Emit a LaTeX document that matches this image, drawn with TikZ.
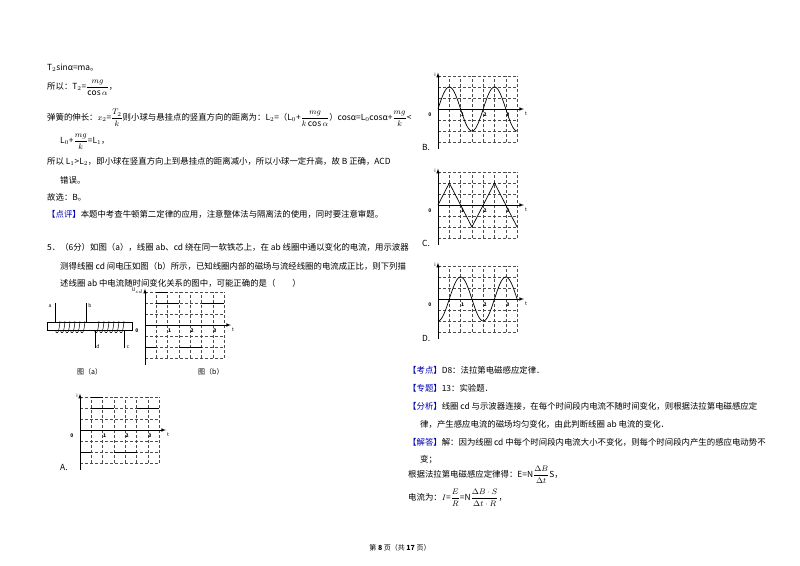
\documentclass[tikz,border=0pt]{standalone}
\usepackage{fontspec}
\setmainfont{Noto Sans CJK SC}
\usepackage{amsmath}
\begin{document}
\def\cc{11.3}\def\rr{11}
\newcommand{\mygraph}[4]{% ox oy ylabel curve
\begin{scope}[shift={(#1,#2)},yscale=-1]
\foreach \k in {1,...,7} \draw[densely dashed,black!70,line width=0.4pt] (\k*\cc,-3*\rr)--(\k*\cc,3*\rr);
\foreach \k in {-3,-2,-1,1,2,3} \draw[densely dashed,black!70,line width=0.4pt] (0,\k*\rr)--(7*\cc,\k*\rr);
\draw[-latex,line width=0.6pt] (0,-3.6*\rr)--(0,3.3*\rr);
\draw[-latex,line width=0.6pt] (0,0)--(7.6*\cc,0);
\node[font=\tiny\itshape,anchor=east,inner sep=1pt] at (-1,3.1*\rr) {#3};
\node[font=\tiny\bfseries] at (-8,-0.5*\rr) {0};
\node[font=\tiny\bfseries] at (2*\cc+2,-0.5*\rr) {1};
\node[font=\tiny\bfseries] at (4*\cc+2,-0.5*\rr) {2};
\node[font=\tiny\bfseries] at (6*\cc+2,-0.5*\rr) {3};
\node[font=\tiny\itshape] at (7.8*\cc,-0.4*\rr) {t};
#4
\end{scope}}
\newcommand{\sq}{\draw[line width=0.7pt] (0,-2*\rr)--(\cc,-2*\rr) (\cc,2*\rr)--(3*\cc,2*\rr) (3*\cc,-2*\rr)--(5*\cc,-2*\rr) (5*\cc,2*\rr)--(7*\cc,2*\rr);\draw[line width=0.7pt] (\cc,3*\rr)--(2*\cc,3*\rr);}
\begin{tikzpicture}[x=1pt,y=-1pt,
  txt/.style={anchor=west,inner sep=0,font=\fontsize{8.4}{10}\selectfont}]
\useasboundingbox[fill=white] (0,0) rectangle (800,565);
% left column text
\node[txt] (l1) at (47,68) {T$_2$sinα=ma。};
\node[txt] (l2) at (47,88) {所以：T$_2$=$\dfrac{mg}{\cos\alpha}$，};
\node[txt] (l3) at (47,118) {弹簧的伸长：$x_2$=$\dfrac{T_2}{k}$则小球与悬挂点的竖直方向的距离为：L$_2$=（L$_0$+$\dfrac{mg}{k\cos\alpha}$）cosα=L$_0$cosα+$\dfrac{mg}{k}$<};
\node[txt] (l4) at (60,142) {L$_0$+$\dfrac{mg}{k}$=L$_1$，};
\node[txt] (l5) at (47,161) {所以 L$_1$>L$_2$，即小球在竖直方向上到悬挂点的距离减小，所以小球一定升高，故 B 正确，ACD};
\node[txt] (l6) at (60,180) {错误。};
\node[txt] (l7) at (47,197) {故选：B。};
\node[txt] (l8) at (47,214) {\textcolor{blue!70!black}{【点评】}本题中考查牛顿第二定律的应用，注意整体法与隔离法的使用，同时要注意审题。};
\node[txt] (q1) at (47,247) {5．（6分）如图（a），线圈 ab、cd 绕在同一软铁芯上，在 ab 线圈中通以变化的电流，用示波器};
\node[txt] (q2) at (60,266) {测得线圈 cd 间电压如图（b）所示，已知线圈内部的磁场与流经线圈的电流成正比，则下列描};
\node[txt] (q3) at (60,283) {述线圈 ab 中电流随时间变化关系的图中，可能正确的是（　　）};
% coil
\draw[line width=0.6pt] (47,322) rectangle (132,330);
\foreach \x in {60,65,...,85} \draw[line width=0.5pt] (\x,321) .. controls (\x-1,335) and (\x-4,335) .. (\x-4.5,330);
\foreach \x in {99,104,...,124} \draw[line width=0.5pt] (\x,321) .. controls (\x-1,335) and (\x-4,335) .. (\x-4.5,330);
\draw[line width=0.6pt] (55,303)--(55,322) (86,303)--(86,322) (95,330)--(95,348) (124,330)--(124,348);
\node[font=\tiny\itshape] (a) at (50,306) {a};
\node[font=\tiny\itshape] (b) at (90,306) {b};
\node[font=\tiny\itshape] (d) at (98,347) {d};
\node[font=\tiny\itshape] (c) at (128,347) {c};
\node[txt,font=\scriptsize] (fa) at (77,372) {图（a）};
\node[txt,font=\scriptsize] (fb) at (198,372) {图（b）};
\mygraph{145}{325}{U$_{cd}$}{\sq}
\mygraph{80}{430}{i}{\sq}
\node[txt] (A) at (60,467) {A.};
% right graphs
\mygraph{438}{109}{i}{\draw[line width=0.7pt,domain=0:7*\cc,samples=80] plot (\x,{2*\rr*sin(90*\x/\cc)});}
\node[txt] (B) at (422,147) {B.};
\mygraph{438}{205}{i}{\draw[line width=0.7pt] (0,0)--(\cc,2*\rr)--(3*\cc,-2*\rr)--(5*\cc,2*\rr)--(7*\cc,-2*\rr);}
\node[txt] (C) at (422,243) {C.};
\mygraph{438}{299}{i}{\draw[line width=0.7pt,domain=0:7*\cc,samples=80] plot (\x,{-2*\rr*cos(90*\x/\cc)});}
\node[txt] (D) at (422,338) {D.};
% right text
\node[txt] (r1) at (408,370) {\textcolor{blue!70!black}{【考点】}D8：法拉第电磁感应定律．};
\node[txt] (r2) at (408,388) {\textcolor{blue!70!black}{【专题】}13：实验题．};
\node[txt] (r3) at (408,406) {\textcolor{blue!70!black}{【分析】}线圈 cd 与示波器连接，在每个时间段内电流不随时间变化，则根据法拉第电磁感应定};
\node[txt] (r4) at (420,424) {律，产生感应电流的磁场均匀变化，由此判断线圈 ab 电流的变化．};
\node[txt] (r5) at (408,442) {\textcolor{blue!70!black}{【解答】}解：因为线圈 cd 中每个时间段内电流大小不变化，则每个时间段内产生的感应电动势不};
\node[txt] (r6) at (420,460) {变；};
\node[txt] (r7) at (408,475) {根据法拉第电磁感应定律得：E=N$\dfrac{\Delta B}{\Delta t}$S，};
\node[txt] (r8) at (408,498) {电流为：$I$=$\dfrac{E}{R}$=N$\dfrac{\Delta B\cdot S}{\Delta t\cdot R}$，};
\node[font=\scriptsize] (ft) at (400,548) {第 \textbf{8} 页（共 \textbf{17} 页）};
\end{tikzpicture}
\end{document}
